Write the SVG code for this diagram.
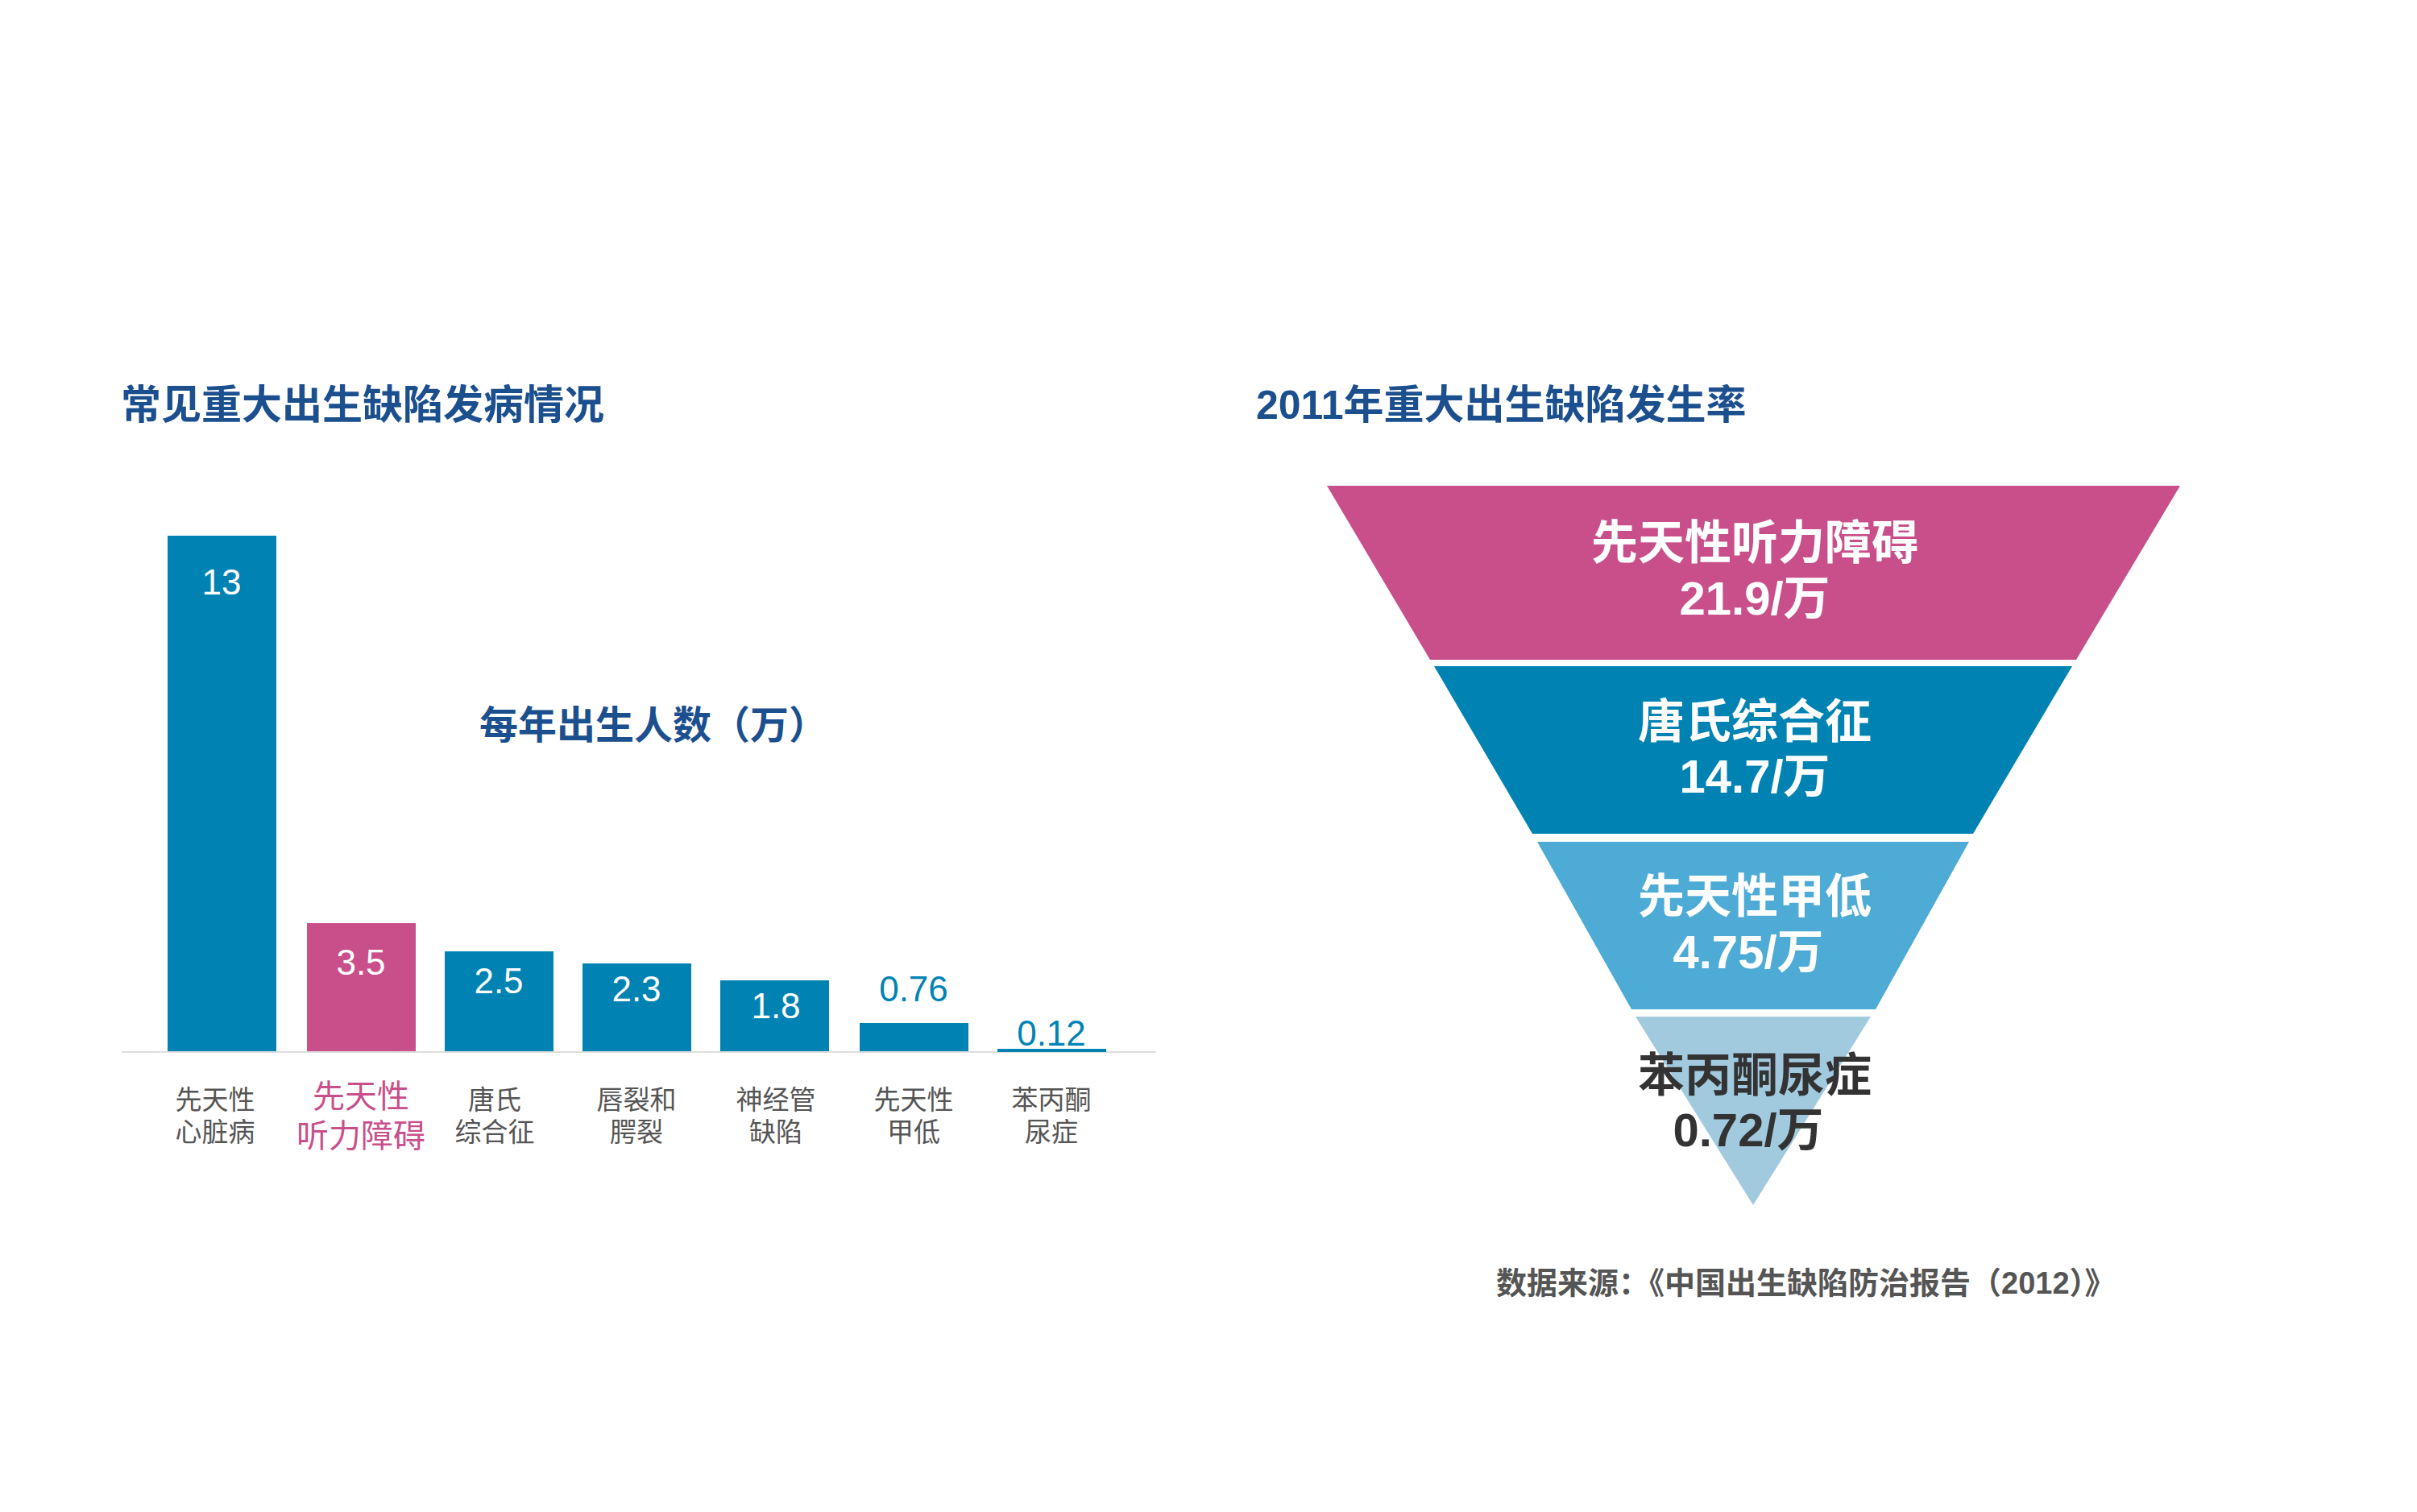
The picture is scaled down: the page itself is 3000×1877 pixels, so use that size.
<svg xmlns="http://www.w3.org/2000/svg" width="3000" height="1877" viewBox="0 0 3000 1877">
<style>
text{font-family:"Liberation Sans","Noto Sans CJK SC",sans-serif}
.t{font-size:50px;font-weight:bold;fill:#1b4f8e}
.v{font-size:44px;fill:#fff;text-anchor:middle}
.vb{font-size:44px;fill:#0083b3;text-anchor:middle}
.c{font-size:33px;fill:#555;text-anchor:middle}
.cp{font-size:40px;fill:#c94f8b;text-anchor:middle}
.f{font-size:58px;font-weight:bold;fill:#fff;text-anchor:middle}
.bar{fill:#0083b3}
</style>
<rect width="3000" height="1877" fill="#fff"/>
<text class="t" x="150" y="520">常见重大出生缺陷发病情况</text>
<text class="t" x="1559" y="520">2011年重大出生缺陷发生率</text>
<line x1="151" y1="1306" x2="1435" y2="1306" stroke="#ddd" stroke-width="2"/>
<g id="bar1"><rect class="bar" x="208" y="665" width="135" height="640"/><text class="v" x="275" y="738">13</text><text class="c" x="267" y="1377">先天性</text><text class="c" x="267" y="1417">心脏病</text></g>
<g id="bar2"><rect x="381" y="1146" width="135" height="159" fill="#c94f8b"/><text class="v" x="448" y="1210">3.5</text><text class="cp" x="448" y="1375">先天性</text><text class="cp" x="448" y="1424">听力障碍</text></g>
<g id="bar3"><rect class="bar" x="552" y="1181" width="135" height="124"/><text class="v" x="619" y="1233">2.5</text><text class="c" x="614" y="1377">唐氏</text><text class="c" x="614" y="1417">综合征</text></g>
<g id="bar4"><rect class="bar" x="723" y="1196" width="135" height="109"/><text class="v" x="790" y="1243">2.3</text><text class="c" x="790" y="1377">唇裂和</text><text class="c" x="790" y="1417">腭裂</text></g>
<g id="bar5"><rect class="bar" x="894" y="1217" width="135" height="88"/><text class="v" x="963" y="1264">1.8</text><text class="c" x="963" y="1377">神经管</text><text class="c" x="963" y="1417">缺陷</text></g>
<g id="bar6"><rect class="bar" x="1067" y="1270" width="135" height="35"/><text class="vb" x="1134" y="1243">0.76</text><text class="c" x="1134" y="1377">先天性</text><text class="c" x="1134" y="1417">甲低</text></g>
<g id="bar7"><rect class="bar" x="1238" y="1302" width="135" height="4"/><text class="vb" x="1305" y="1298">0.12</text><text class="c" x="1305" y="1377">苯丙酮</text><text class="c" x="1305" y="1417">尿症</text></g>
<text x="811" y="917" font-size="48" font-weight="bold" fill="#1b4f8e" text-anchor="middle">每年出生人数（万）</text>
<g id="f1"><polygon points="1647,603 2706,603 2577,819 1775,819" fill="#c94f8b"/><text class="f" x="2178" y="694">先天性听力障碍</text><text class="f" x="2178" y="763">21.9/万</text></g>
<g id="f2"><polygon points="1780,827 2572,827 2449,1035 1902,1035" fill="#0083b3"/><text class="f" x="2178" y="916">唐氏综合征</text><text class="f" x="2178" y="984">14.7/万</text></g>
<g id="f3"><polygon points="1908,1045 2444,1045 2328,1253 2025,1253" fill="#4dabd6"/><text class="f" x="2178" y="1133">先天性甲低</text><text class="f" x="2170" y="1202">4.75/万</text></g>
<g id="f4"><polygon points="2030,1262 2322,1262 2176,1496" fill="#a2cadf"/><text class="f" x="2178" y="1355" fill="#333" style="fill:#333">苯丙酮尿症</text><text class="f" x="2170" y="1423" style="fill:#333">0.72/万</text></g>
<text x="1857" y="1606" font-size="38" font-weight="bold" fill="#555">数据来源：《中国出生缺陷防治报告（2012）》</text>
</svg>
